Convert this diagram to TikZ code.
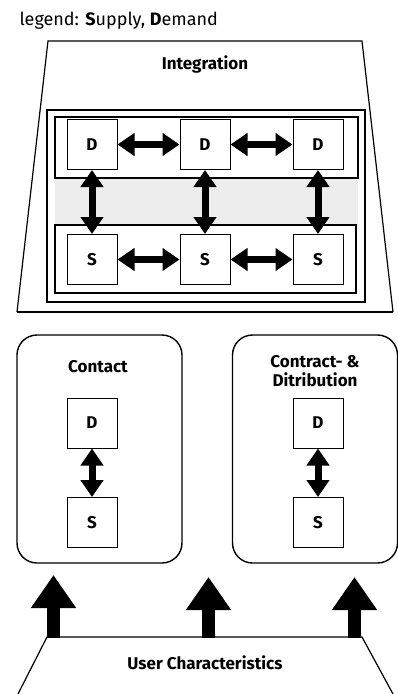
\documentclass[tikz,border=0pt]{standalone}
\usepackage{fontspec}
\setmainfont{Fira Sans}
\usetikzlibrary{positioning,arrows.meta}

\tikzset{
  lab/.style={font=\fontsize{17}{19}\selectfont\bfseries, align=center},
  box/.style={draw, line width=1pt, fill=white, minimum width=50pt, minimum height=50pt,
    inner sep=0pt, font=\fontsize{17}{19}\selectfont\bfseries},
  band/.style={draw, line width=1.2pt},
  panel/.style={draw, line width=1.4pt, rounded corners=20pt, minimum width=165pt,
    minimum height=228pt, inner sep=0pt},
  link/.style={line width=7pt, {Triangle[length=17pt,width=22pt]}-{Triangle[length=17pt,width=22pt]}},
  push/.style={line width=13pt, -{Triangle[length=33pt,width=43pt]}},
}

\begin{document}
\begin{tikzpicture}[x=1pt,y=-1pt]
\useasboundingbox (0,0) rectangle (397,694);

\node[anchor=base west, font=\fontsize{18}{20}\selectfont] (legend) at (16,25)
    {legend: \textbf{S}upply, \textbf{D}emand};

% integration level
\draw[line width=1.2pt] (17,312) -- (48,41) -- (362,41) -- (393,312);
\draw[line width=2.5pt] (17,312) -- (393,312);
\node[lab] (integ) at (205,64) {Integration};
\draw[band] (47,110) rectangle (365,302);
\fill[black!7] (55,178) rectangle (358,225);
\draw[band] (55,117) rectangle (358,178);
\draw[band] (55,225) rectangle (356,293);

\foreach \x/\n in {92/1,205/2,318/3} {
  \node[box] (d\n) at (\x,144.5) {D};
  \node[box] (s\n) at (\x,259.5) {S};
  \draw[link] (d\n) -- (s\n);
}
\draw[link] (d1) -- (d2);
\draw[link] (d2) -- (d3);
\draw[link] (s1) -- (s2);
\draw[link] (s2) -- (s3);

% contact and contract levels
\node[panel] (contact) at (99.5,449) {};
\node[panel] (contract) at (315,449) {};
\node[lab] (contactlab) at (98,367) {Contact};
\node[lab] (contractlab) at (315,371) {Contract- \&\\Ditribution};

\node[box] (cd) at (92,423) {D};
\node[box] (cs) at (92,522.5) {S};
\draw[link] (cd) -- (cs);
\node[box] (kd) at (318,423) {D};
\node[box] (ks) at (318,522.5) {S};
\draw[link] (kd) -- (ks);

% user characteristics
\draw[line width=1.2pt] (18,694) -- (47,637) -- (362,637) -- (393,694);
\node[lab] (user) at (205,663) {User Characteristics};
\coordinate (u1) at (53.5,638);
\coordinate (u2) at (208.5,638);
\coordinate (u3) at (354.5,638);
\coordinate (t1) at (53.5,575);
\coordinate (t2) at (208.5,577);
\coordinate (t3) at (354.5,577);
\draw[push] (u1) -- (t1);
\draw[push] (u2) -- (t2);
\draw[push] (u3) -- (t3);
\end{tikzpicture}
\end{document}
